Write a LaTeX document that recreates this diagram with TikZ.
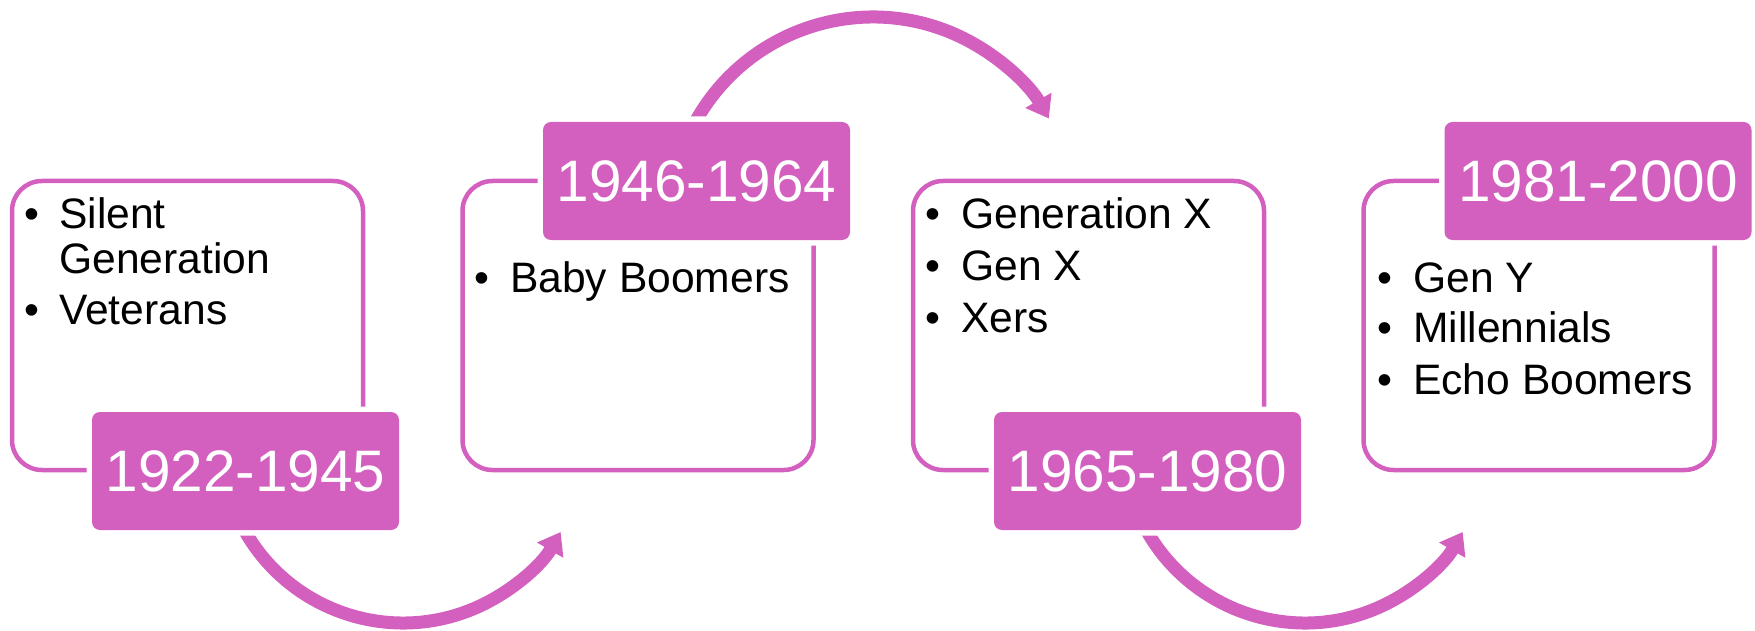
\documentclass[tikz,border=0pt]{standalone}
\usepackage{fontspec}
\setmainfont{Liberation Sans}
\usetikzlibrary{arrows.meta}
\definecolor{gmag}{RGB}{211,95,191}
\begin{document}
\begin{tikzpicture}[x=1pt,y=-1pt,
 outbox/.style={draw=gmag, line width=4.5pt, rounded corners=30pt, inner sep=0pt, minimum width=351pt, minimum height=289pt},
 datebox/.style={fill=gmag, rounded corners=8pt, preaction={draw=white, line width=11pt}, text=white, font=\fontsize{58.5}{60}\selectfont, minimum width=307pt, minimum height=118pt, inner sep=0pt},
 arr/.style={draw=gmag, line width=13pt, -{Triangle[width=29pt,length=21pt]}},
 bul/.style={anchor=base, inner sep=0pt, font=\fontsize{42.6}{45}\selectfont},
 itemtxt/.style={anchor=base west, inner sep=0pt, font=\fontsize{42.6}{45}\selectfont}
]
\useasboundingbox (0,0) rectangle (1755,631);
% arrow start points
\coordinate (a1s) at (238.1,517.9);
\coordinate (a2s) at (693.8,124.7);
\coordinate (a3s) at (1140.1,517.9);
\draw[arr] (a1s) arc[start angle=-155, end angle=-30, radius=182pt];
\draw[arr] (a2s) arc[start angle=152, end angle=30, radius=203pt];
\draw[arr] (a3s) arc[start angle=-155, end angle=-30, radius=182pt];
% outline boxes
\node[outbox] (b1) at (187.5,325.5) {};
\node[outbox] (b2) at (638,325.5) {};
\node[outbox] (b3) at (1088.5,325.5) {};
\node[outbox] (b4) at (1539,325.5) {};
% date boxes
\node[datebox] (d1) at (245.5,471) {1922-1945};
\node[datebox] (d2) at (696.5,181) {1946-1964};
\node[datebox] (d3) at (1147.5,471) {1965-1980};
\node[datebox] (d4) at (1598,181) {1981-2000};
% box 1
\node[bul] (p1a) at (32,228) {•};
\node[itemtxt] (t1a) at (59,228) {Silent};
\node[itemtxt] (t1b) at (59,273) {Generation};
\node[bul] (p1c) at (32,324) {•};
\node[itemtxt] (t1c) at (59,324) {Veterans};
% box 2
\node[bul] (p2a) at (482,292) {•};
\node[itemtxt] (t2a) at (510,292) {Baby Boomers};
% box 3
\node[bul] (p3a) at (933,228) {•};
\node[itemtxt] (t3a) at (961,228) {Generation X};
\node[bul] (p3b) at (933,280) {•};
\node[itemtxt] (t3b) at (961,280) {Gen X};
\node[bul] (p3c) at (933,332) {•};
\node[itemtxt] (t3c) at (961,332) {Xers};
% box 4
\node[bul] (p4a) at (1385,292) {•};
\node[itemtxt] (t4a) at (1413,292) {Gen Y};
\node[bul] (p4b) at (1385,342) {•};
\node[itemtxt] (t4b) at (1413,342) {Millennials};
\node[bul] (p4c) at (1385,394) {•};
\node[itemtxt] (t4c) at (1413,394) {Echo Boomers};
\end{tikzpicture}
\end{document}
